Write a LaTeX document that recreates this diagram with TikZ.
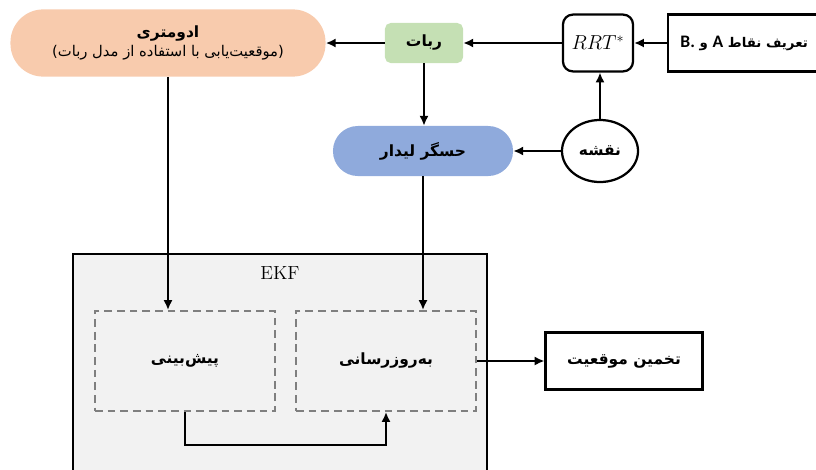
\documentclass[tikz,border=0pt]{standalone}
\usepackage{fontspec}
\usetikzlibrary{shapes.geometric,arrows.meta}
\newfontfamily\farsi[Script=Arabic]{DejaVu Sans}
\newfontfamily\lat{Carlito}
\TeXXeTstate=1
\newcommand{\fa}[1]{{\farsi\beginR #1\endR}}
\definecolor{odocol}{HTML}{F8CBAD}
\definecolor{robcol}{HTML}{C5E0B4}
\definecolor{lidcol}{HTML}{8FAADC}
\definecolor{ekfcol}{HTML}{F2F2F2}
\definecolor{dashcol}{HTML}{7F7F7F}
\tikzset{
  flow/.style={line width=2pt,-{Latex[length=7pt,width=6.5pt]}},
  plainbox/.style={draw,line width=1.6pt,minimum height=1.42cm,font=\fontsize{11}{13}\selectfont},
  dashbox/.style={draw=dashcol,dashed,dash pattern=on 5.5pt off 3.5pt,line width=1.4pt,
    minimum width=4.5cm,minimum height=2.5cm,font=\fontsize{11}{13}\selectfont}
}
\begin{document}
\begin{tikzpicture}[x=0.025cm,y=-0.025cm]
  \useasboundingbox (0,0) rectangle (816,469);
  % EKF frame
  \node[draw,fill=ekfcol,line width=1.1pt,minimum width=10.35cm,minimum height=5.6cm,anchor=north west]
    (ekf) at (72,253) {};
  \node (ekflabel) at (280,273) {\fontsize{13.5}{16}\selectfont EKF};
  % top row
  \node[fill=odocol,rounded corners=0.82cm,minimum width=7.875cm,minimum height=1.68cm,
    align=center,font=\fontsize{10.5}{15}\selectfont] (odo) at (168,43)
    {\fa{\textbf{\fontsize{11}{15}\selectfont ادومتری}}\\[-1pt]\fa{(موقعیت‌یابی با استفاده از مدل ربات)}};
  \node[fill=robcol,rounded corners=4pt,minimum width=1.95cm,minimum height=1cm,
    font=\fontsize{11}{13}\selectfont] (rob) at (424,43) {\fa{\textbf{ربات}}};
  \node[plainbox,rounded corners=7pt,minimum width=1.75cm] (rrt) at (598,43)
    {\fontsize{14}{16}\selectfont$RRT^*$};
  \node[plainbox,minimum width=3.8cm,anchor=west,font=\fontsize{9.5}{12}\selectfont] (def) at (667,43)
    {\fa{\textbf{تعریف نقاط {\lat\fontsize{12.5}{13}\selectfont A} و \beginL{\lat\fontsize{12.5}{13}\selectfont B.}\endL}}\hspace{0.5cm}};
  % sensors
  \node[fill=lidcol,rounded corners=0.62cm,minimum width=4.5cm,minimum height=1.25cm,
    font=\fontsize{11}{13}\selectfont] (lid) at (423,151) {\fa{\textbf{حسگر لیدار}}};
  \node[draw,ellipse,line width=1.6pt,inner sep=0pt,minimum width=1.9cm,minimum height=1.55cm,
    font=\fontsize{11}{13}\selectfont] (map) at (600,151) {\fa{\textbf{نقشه}}};
  % filter stages
  \node[dashbox] (pred) at (185,361) {\fa{\textbf{پیش‌بینی}}};
  \node[dashbox] (upd) at (386,361) {\fa{\textbf{به‌روزرسانی}}};
  \node[plainbox,minimum width=3.92cm] (est) at (624,361) {\fa{\textbf{تخمین موقعیت}}};
  % connectors
  \draw[flow] (rob) -- (odo);
  \draw[flow] (rrt) -- (rob);
  \draw[flow] (def) -- (rrt);
  \draw[flow] (map.north) -- (map.north |- rrt.south);
  \draw[flow] (map) -- (lid);
  \draw[flow] (rob) -- (rob |- lid.north);
  \draw[flow] (odo.south) -- (odo.south |- pred.north);
  \draw[flow] (lid.south) -- (lid.south |- upd.north);
  \draw[flow] (upd) -- (est);
  \draw[flow] (pred.south) -- ++(0,33) -| (upd.south);
\end{tikzpicture}
\end{document}
